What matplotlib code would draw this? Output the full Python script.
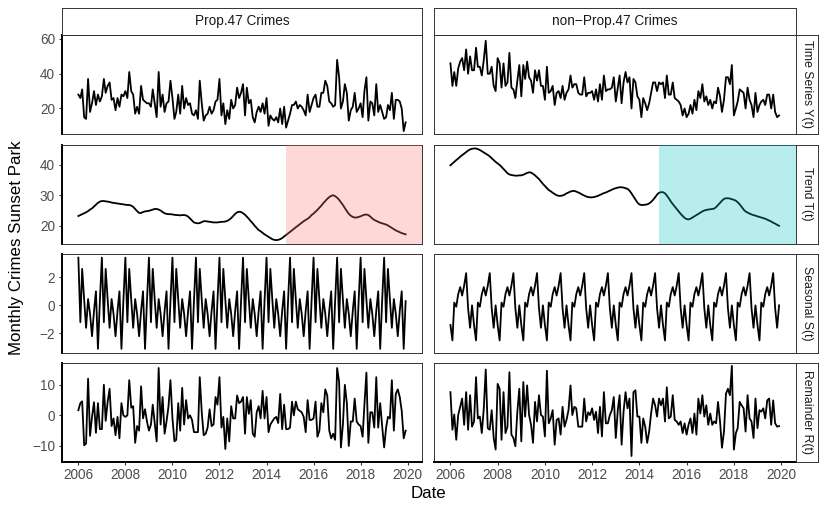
import numpy as np
import pandas as pd
import matplotlib
matplotlib.use("Agg")
import matplotlib.pyplot as plt
import matplotlib.dates as mdates

plt.rcParams['font.family'] = ['Liberation Sans', 'DejaVu Sans']

# monthly observations Jan 2006 - Dec 2019
dates = pd.date_range('2006-01-01', periods=168, freq='MS')
prop47_start = pd.Timestamp('2014-11-05')

col_titles = ['Prop.47 Crimes', 'non\u2212Prop.47 Crimes']
row_titles = ['Time Series Y(t)', 'Trend T(t)', 'Seasonal S(t)', 'Remainder R(t)']

# ---- Prop.47 crimes ----
series_p47 = [
    28, 26, 31, 15, 14, 37, 18, 23, 30, 22, 28, 24,
    27, 37, 29, 33, 35, 25, 26, 19, 26, 21, 28, 27,
    30, 26, 41, 30, 28, 17, 21, 17, 33, 25, 24, 23,
    23, 21, 31, 23, 15, 41, 21, 28, 18, 23, 24, 36,
    26, 14, 18, 28, 17, 33, 20, 26, 22, 23, 17, 16,
    19, 14, 36, 23, 13, 16, 17, 21, 17, 19, 24, 25,
    37, 16, 23, 11, 19, 14, 25, 20, 22, 32, 26, 29,
    34, 16, 32, 23, 25, 15, 12, 18, 21, 18, 23, 17,
    26, 10, 16, 14, 13, 15, 12, 20, 11, 21, 9, 13,
    17, 22, 22, 24, 20, 22, 21, 19, 16, 28, 18, 22,
    26, 28, 21, 21, 29, 29, 36, 33, 24, 23, 21, 22,
    48, 38, 20, 24, 34, 29, 13, 19, 21, 29, 18, 20,
    23, 15, 30, 38, 13, 24, 23, 16, 34, 18, 22, 18,
    14, 15, 22, 19, 29, 14, 25, 25, 24, 20, 7, 12,
]
trend_p47 = [
    23.2, 23.5, 23.8, 24.1, 24.4, 24.8, 25.3, 25.7, 26.3, 26.9, 27.5, 27.9,
    28.1, 28.1, 28.0, 27.9, 27.8, 27.6, 27.5, 27.4, 27.3, 27.2, 27.1, 27.0,
    26.9, 26.8, 26.8, 26.6, 26.2, 25.5, 24.8, 24.2, 24.2, 24.5, 24.7, 24.8,
    24.9, 25.1, 25.3, 25.5, 25.5, 25.3, 25.0, 24.5, 24.1, 23.9, 23.8, 23.8,
    23.7, 23.6, 23.5, 23.5, 23.4, 23.5, 23.5, 23.4, 23.0, 22.4, 21.7, 21.1,
    20.9, 20.8, 20.9, 21.2, 21.5, 21.5, 21.4, 21.3, 21.2, 21.1, 21.1, 21.1,
    21.2, 21.3, 21.3, 21.4, 21.6, 22.0, 22.5, 23.2, 23.9, 24.4, 24.6, 24.5,
    24.1, 23.6, 23.0, 22.3, 21.5, 20.8, 20.0, 19.3, 18.6, 18.2, 17.7, 17.2,
    16.8, 16.4, 16.0, 15.6, 15.4, 15.3, 15.4, 15.6, 16.0, 16.5, 17.0, 17.5,
    18.0, 18.5, 19.0, 19.5, 20.0, 20.5, 21.0, 21.5, 21.9, 22.3, 22.8, 23.5,
    24.0, 24.6, 25.2, 25.9, 26.6, 27.4, 28.1, 28.8, 29.4, 29.8, 30.0, 29.7,
    29.2, 28.5, 27.7, 26.8, 25.8, 24.8, 23.9, 23.3, 22.9, 22.7, 22.7, 22.9,
    23.1, 23.4, 23.6, 23.7, 23.5, 23.0, 22.4, 21.9, 21.6, 21.3, 21.0, 20.8,
    20.6, 20.4, 20.1, 19.7, 19.3, 18.9, 18.5, 18.2, 17.9, 17.6, 17.4, 17.2,
]
# periodic seasonal component: one year, Jan..Dec
season_year_p47 = [3.4, -1.2, 2.6, 0.4, -1.6, 0.45, -0.6, -2.2, -0.4, 1.0, -3.1, 0.3]
remainder_p47 = [
    1.7, 4.0, 4.6, -9.8, -9.2, 12.0, -6.7, -0.5, 4.3, -5.7, 4.0, -4.5,
    -4.5, 10.0, -1.8, 4.5, 8.7, -3.5, -1.0, -6.5, -0.5, -7.5, 4.0, 0.0,
    -0.5, 0.0, 11.5, 2.5, 3.0, -9.0, -3.5, -5.0, 9.5, -1.0, 2.0, -2.0,
    -5.0, -3.0, 3.5, -2.5, -8.5, 15.5, -3.0, 6.0, -6.0, -2.0, 3.0, 11.5,
    -1.0, -8.5, -8.0, 4.0, -5.0, 9.0, -3.0, 5.0, -1.0, 0.0, -1.5, -5.5,
    -5.5, -5.5, 12.5, 1.0, -6.5, -6.0, -4.0, 2.0, -3.5, -3.0, 6.0, 3.5,
    12.5, -4.0, -0.5, -11.0, -1.0, -8.5, 3.0, -1.0, -1.0, 6.5, 4.0, 4.5,
    6.0, -6.0, 6.0, 0.5, 5.0, -6.0, -7.0, 1.0, 3.0, -1.0, 8.0, -1.0,
    6.0, -5.5, -3.0, -2.0, -1.0, -0.5, -2.5, 7.0, -4.5, 3.5, -4.5, -4.5,
    -4.0, 4.5, 0.0, 4.5, 2.0, 1.5, 1.0, -0.5, -5.5, 5.0, -1.5, -1.5,
    -1.0, 4.5, -7.0, -5.0, 4.0, 1.0, 8.5, 6.5, -5.0, -7.5, -6.0, -8.0,
    15.5, 11.0, -10.5, -3.0, 10.0, 4.0, -10.0, -2.0, -2.0, 5.5, -2.0, -3.0,
    -3.5, -7.0, 3.5, 14.0, -9.0, 1.0, 1.0, -4.0, 12.5, -4.0, 4.0, -3.5,
    -10.5, -4.0, -0.5, -1.0, 11.5, -5.0, 7.0, 8.5, 6.0, 1.5, -7.5, -5.0,
]

# ---- non-Prop.47 crimes ----
series_non = [
    46, 33, 41, 33, 43, 47, 49, 42, 54, 40, 50, 42,
    42, 55, 44, 44, 39, 48, 59, 40, 40, 44, 33, 30,
    49, 46, 32, 46, 33, 35, 52, 32, 31, 26, 36, 45,
    27, 45, 37, 47, 38, 36, 29, 42, 36, 42, 33, 33,
    25, 44, 29, 30, 33, 22, 29, 30, 26, 33, 25, 29,
    31, 39, 32, 34, 34, 29, 28, 28, 38, 27, 29, 29,
    30, 25, 31, 24, 34, 25, 39, 30, 31, 31, 32, 38,
    24, 32, 39, 23, 35, 41, 35, 38, 20, 37, 35, 27,
    25, 15, 26, 23, 19, 23, 29, 35, 35, 30, 35, 34,
    35, 26, 39, 28, 28, 35, 26, 25, 24, 22, 16, 20,
    15, 17, 22, 17, 25, 19, 30, 26, 34, 24, 27, 22,
    25, 20, 24, 23, 32, 27, 18, 25, 38, 38, 34, 45,
    16, 20, 24, 31, 30, 29, 20, 32, 25, 22, 15, 29,
    18, 22, 24, 25, 22, 28, 28, 20, 28, 18, 15, 16,
]
trend_non = [
    39.8, 40.4, 40.9, 41.5, 42.0, 42.6, 43.1, 43.6, 44.1, 44.6, 45.0, 45.2,
    45.3, 45.3, 45.1, 44.8, 44.4, 44.0, 43.6, 43.2, 42.7, 42.1, 41.5, 40.9,
    40.4, 39.9, 39.3, 38.6, 37.9, 37.2, 36.8, 36.6, 36.5, 36.4, 36.4, 36.5,
    36.5, 36.7, 37.0, 37.3, 37.5, 37.4, 37.0, 36.5, 35.9, 35.3, 34.5, 33.7,
    33.0, 32.3, 31.7, 31.3, 30.8, 30.4, 30.0, 29.8, 29.8, 29.9, 30.2, 30.6,
    30.9, 31.2, 31.4, 31.4, 31.2, 30.9, 30.6, 30.2, 29.9, 29.6, 29.4, 29.3,
    29.3, 29.4, 29.6, 29.8, 30.1, 30.4, 30.7, 30.9, 31.2, 31.5, 31.8, 32.1,
    32.3, 32.5, 32.6, 32.6, 32.5, 32.3, 32.1, 31.5, 30.6, 29.6, 28.5, 27.6,
    27.0, 26.8, 26.8, 26.9, 27.0, 27.3, 27.8, 28.5, 29.3, 30.2, 30.8, 31.0,
    31.0, 30.6, 29.9, 29.0, 28.0, 27.1, 26.3, 25.5, 24.7, 23.9, 23.2, 22.6,
    22.2, 22.1, 22.3, 22.7, 23.1, 23.5, 23.9, 24.3, 24.7, 25.0, 25.2, 25.3,
    25.4, 25.5, 25.6, 26.1, 26.8, 27.5, 28.2, 28.8, 29.0, 29.0, 28.9, 28.7,
    28.5, 28.2, 27.7, 27.0, 26.2, 25.3, 24.7, 24.3, 24.0, 23.7, 23.5, 23.3,
    23.1, 22.9, 22.7, 22.5, 22.3, 22.0, 21.7, 21.4, 21.0, 20.7, 20.3, 20.0,
]
season_year_non = [-1.4, -2.5, 0.2, -0.1, 0.8, 1.3, 0.7, 1.4, 2.3, -0.2, -1.6, 0.0]
remainder_non = [
    7.6, -4.7, 0.3, -8.0, 0.1, 2.8, 5.5, -3.1, 7.6, -4.7, 6.6, -3.7,
    -2.0, 12.5, -1.0, -0.4, -5.8, 2.3, 15.0, -4.2, -4.7, 1.7, -7.4, -11.2,
    10.3, 8.7, -8.0, 7.6, -5.8, -3.7, 14.1, -6.3, -7.4, -10.1, 1.2, 8.7,
    -8.5, 10.9, -0.4, 9.8, 0.1, -3.1, -9.0, 4.4, -2.0, 6.6, 0.1, -0.4,
    -6.9, 14.6, -2.6, -1.0, 1.7, -9.6, -1.5, -1.0, -6.3, 2.8, -3.7, -1.5,
    1.7, 9.8, 0.1, 2.8, 2.3, -3.7, -3.7, -3.7, 5.5, -2.0, 1.0, 0.1,
    2.3, -1.5, 1.2, -5.8, 2.8, -6.9, 7.6, -2.6, -2.6, 0.1, 1.7, 6.0,
    -7.4, 1.7, 6.6, -9.6, 1.2, 7.6, 2.3, 5.5, -13.3, 7.6, 8.2, -0.4,
    -0.4, -9.0, -1.0, -3.7, -9.0, -5.3, 0.6, 5.5, 3.3, -0.4, 5.5, 3.3,
    5.5, -2.0, 9.2, -1.0, -0.4, 6.6, -1.5, -2.0, -3.1, -2.0, -5.8, -2.6,
    -6.3, -3.0, -1.0, -5.8, 0.6, -6.3, 5.5, 0.6, 6.6, -0.4, 3.3, -3.1,
    0.6, -3.1, -2.0, -2.6, 4.4, -2.0, -10.6, -5.3, 7.1, 8.7, 6.6, 16.2,
    -11.2, -5.8, -4.2, 4.4, 3.3, 2.3, -5.3, 6.6, -1.0, -2.0, -7.4, 5.5,
    -4.2, 1.7, 1.2, 2.3, -1.0, 4.9, 5.5, -3.1, 4.9, -2.6, -3.7, -3.5,
]

n_years = len(dates) // 12
seasonal_p47 = np.tile(season_year_p47, n_years)
seasonal_non = np.tile(season_year_non, n_years)

columns = [
    [series_p47, trend_p47, seasonal_p47, remainder_p47],
    [series_non, trend_non, seasonal_non, remainder_non],
]
shade_colors = ['#F8766D', '#00BFC4']

row_ylims = [(5.6, 62.3), (14.2, 46.6), (-3.36, 3.66), (-15.1, 17.3)]
row_yticks = [[20, 40, 60], [20, 30, 40], [-2, 0, 2], [-10, 0, 10]]

# layout in pixels (from top-left)
W, H = 830, 513
col_x = [(62, 422), (434, 795.5)]
row_y = [(35, 133.5), (144.5, 243.5), (254, 352.5), (362.5, 461.5)]
strip_top = (7.5, 35)
strip_right = (795.5, 818)


def rect(x0, y0, x1, y1):
    return [x0 / W, 1 - y1 / H, (x1 - x0) / W, (y1 - y0) / H]


fig = plt.figure(figsize=(W / 100, H / 100), dpi=100)

d0 = mdates.date2num(dates[0])
d1 = mdates.date2num(dates[-1])
pad = 0.05 * (d1 - d0)
border = '#333333'

for c, comps in enumerate(columns):
    for r, vals in enumerate(comps):
        ax = fig.add_axes(rect(col_x[c][0], row_y[r][0], col_x[c][1], row_y[r][1]))
        ax.plot(dates, vals, color='black', lw=1.3, zorder=2)
        if r == 1:
            ax.axvspan(prop47_start, mdates.num2date(d1 + pad), color=shade_colors[c],
                       alpha=0.28, lw=0, zorder=3)
        ax.set_xlim(d0 - pad, d1 + pad)
        ax.set_ylim(*row_ylims[r])
        ax.xaxis.set_major_locator(mdates.YearLocator(2))
        ax.xaxis.set_major_formatter(mdates.DateFormatter('%Y'))
        ax.set_yticks(row_yticks[r])
        for s in ax.spines.values():
            s.set_color(border)
            s.set_linewidth(0.7)
        ax.tick_params(direction='out', length=2.5, width=0.8, color=border,
                       labelsize=9.8, labelcolor='#4D4D4D', pad=2.5)
        if c == 0:
            ax.spines['left'].set_color('black')
            ax.spines['left'].set_linewidth(1.4)
        else:
            ax.tick_params(axis='y', left=False, labelleft=False)
        if r == 3:
            ax.spines['bottom'].set_color('black')
            ax.spines['bottom'].set_linewidth(1.4)
        else:
            ax.tick_params(axis='x', bottom=False, labelbottom=False)

# column strips
for c, title in enumerate(col_titles):
    sax = fig.add_axes(rect(col_x[c][0], strip_top[0], col_x[c][1], strip_top[1]))
    sax.set_xticks([])
    sax.set_yticks([])
    for s in sax.spines.values():
        s.set_color(border)
        s.set_linewidth(0.7)
    sax.text(0.5, 0.5, title, transform=sax.transAxes, ha='center', va='center',
             fontsize=9.8, color='#1A1A1A')

# row strips
for r, title in enumerate(row_titles):
    sax = fig.add_axes(rect(strip_right[0], row_y[r][0], strip_right[1], row_y[r][1]))
    sax.set_xticks([])
    sax.set_yticks([])
    for s in sax.spines.values():
        s.set_color(border)
        s.set_linewidth(0.7)
    sax.text(0.5, 0.5, title, transform=sax.transAxes, ha='center', va='center',
             rotation=-90, fontsize=8.8, color='#1A1A1A')

fig.text(17 / W, 1 - 248 / H, 'Monthly Crimes Sunset Park', rotation=90,
         ha='center', va='center', fontsize=12.2)
fig.text(428.5 / W, 1 - 494 / H, 'Date', ha='center', va='center', fontsize=12.2)

fig.savefig('out.png', dpi=100)
